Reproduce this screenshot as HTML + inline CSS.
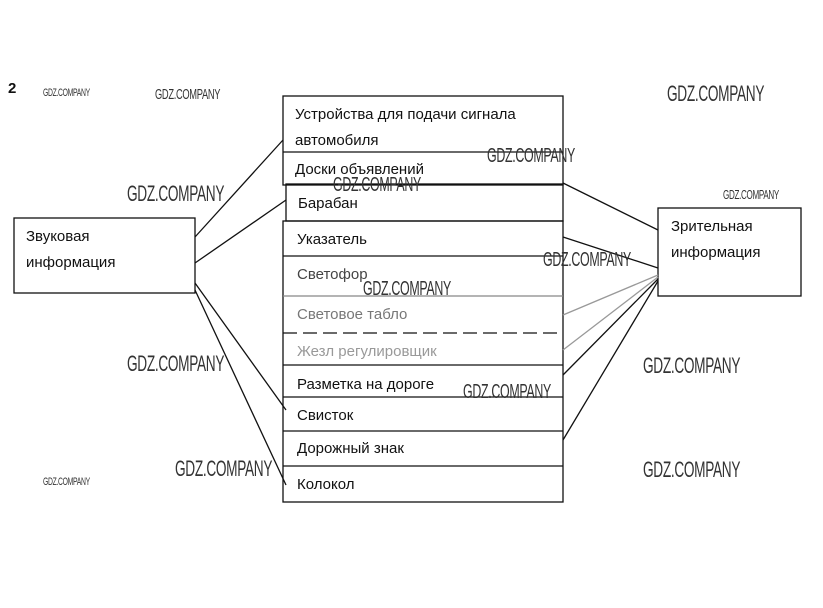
<!DOCTYPE html>
<html><head><meta charset="utf-8"><style>
body{margin:0;background:#fff;width:823px;height:608px;overflow:hidden;position:relative;font-family:"Liberation Sans","DejaVu Sans",sans-serif}
.t{position:absolute;font-size:15px;color:#111;white-space:nowrap}
.w{position:absolute;font-family:"Liberation Sans Narrow","Liberation Sans",sans-serif;color:#333;font-size:18px;transform:scaleX(0.62);transform-origin:left top;letter-spacing:-0.5px;white-space:nowrap}
.s{font-size:11px}
</style></head><body>
<svg width="823" height="608" style="position:absolute;left:0;top:0" fill="none" stroke="#111" stroke-width="1.3">
<rect x="14" y="218" width="181" height="75"/>
<rect x="658" y="208" width="143" height="88"/>
<rect x="283" y="96" width="280" height="89"/>
<line x1="283" y1="152" x2="563" y2="152"/>
<rect x="286" y="184" width="277" height="37"/>
<rect x="283" y="221" width="280" height="281"/>
<line x1="283" y1="256" x2="563" y2="256"/>
<line x1="283" y1="296" x2="563" y2="296" stroke="#888"/>
<line x1="283" y1="333" x2="563" y2="333" stroke-dasharray="14,6"/>
<line x1="283" y1="365" x2="563" y2="365"/>
<line x1="283" y1="397" x2="563" y2="397"/>
<line x1="283" y1="431" x2="563" y2="431"/>
<line x1="283" y1="466" x2="563" y2="466"/>
<line x1="195" y1="237" x2="283" y2="140"/>
<line x1="195" y1="263" x2="286" y2="200"/>
<line x1="195" y1="283" x2="286" y2="410"/>
<line x1="195" y1="290" x2="286" y2="485"/>
<line x1="563" y1="183" x2="658" y2="230"/>
<line x1="563" y1="237" x2="658" y2="268"/>
<line x1="563" y1="315" x2="658" y2="275" stroke="#999"/>
<line x1="563" y1="350" x2="658" y2="277" stroke="#999"/>
<line x1="563" y1="375" x2="658" y2="279"/>
<line x1="563" y1="440" x2="658" y2="281"/>
</svg>
<div class="t" style="left:8px;top:80px;font-weight:bold">2</div>
<div class="t" style="left:26px;top:228px">Звуковая</div>
<div class="t" style="left:26px;top:254px">информация</div>
<div class="t" style="left:671px;top:218px">Зрительная</div>
<div class="t" style="left:671px;top:244px">информация</div>
<div class="t" style="left:295px;top:106px">Устройства для подачи сигнала</div>
<div class="t" style="left:295px;top:132px">автомобиля</div>
<div class="t" style="left:295px;top:161px">Доски объявлений</div>
<div class="t" style="left:298px;top:195px">Барабан</div>
<div class="t" style="left:297px;top:231px">Указатель</div>
<div class="t" style="left:297px;top:266px;color:#444">Светофор</div>
<div class="t" style="left:297px;top:306px;color:#777">Световое табло</div>
<div class="t" style="left:297px;top:343px;color:#999">Жезл регулировщик</div>
<div class="t" style="left:297px;top:376px">Разметка на дороге</div>
<div class="t" style="left:297px;top:407px">Свисток</div>
<div class="t" style="left:297px;top:440px">Дорожный знак</div>
<div class="t" style="left:297px;top:476px">Колокол</div>
<div class="w s" style="left:43px;top:87px">GDZ.COMPANY</div>
<div class="w" style="left:155px;top:86px;font-size:15px">GDZ.COMPANY</div>
<div class="w" style="left:667px;top:81px;font-size:22px">GDZ.COMPANY</div>
<div class="w" style="left:487px;top:145px;font-size:20px">GDZ.COMPANY</div>
<div class="w" style="left:333px;top:174px;font-size:20px">GDZ.COMPANY</div>
<div class="w" style="left:127px;top:181px;font-size:22px">GDZ.COMPANY</div>
<div class="w" style="left:723px;top:187px;font-size:13px">GDZ.COMPANY</div>
<div class="w" style="left:543px;top:249px;font-size:20px">GDZ.COMPANY</div>
<div class="w" style="left:363px;top:278px;font-size:20px">GDZ.COMPANY</div>
<div class="w" style="left:127px;top:351px;font-size:22px">GDZ.COMPANY</div>
<div class="w" style="left:643px;top:353px;font-size:22px">GDZ.COMPANY</div>
<div class="w" style="left:463px;top:381px;font-size:20px">GDZ.COMPANY</div>
<div class="w" style="left:175px;top:456px;font-size:22px">GDZ.COMPANY</div>
<div class="w" style="left:643px;top:457px;font-size:22px">GDZ.COMPANY</div>
<div class="w s" style="left:43px;top:476px">GDZ.COMPANY</div>
</body></html>
